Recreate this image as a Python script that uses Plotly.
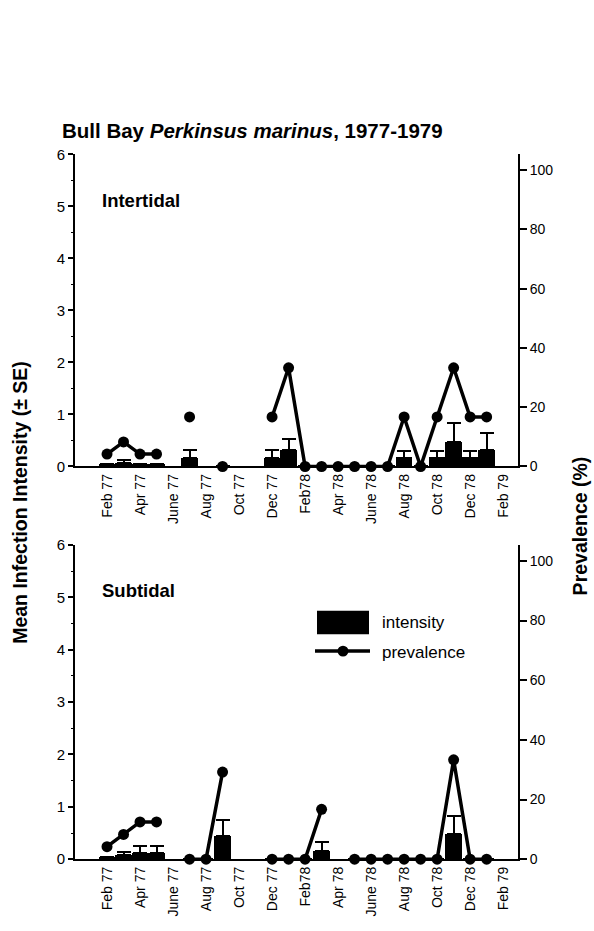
import plotly.graph_objects as go

# Sampling months, indexed from Feb 1977 (0) to Jan 1979 (23)
months = list(range(24))

tick_vals = [0, 2, 4, 6, 8, 10, 12, 14, 16, 18, 20, 22, 24]
tick_text = ["Feb 77", "Apr 77", "June 77", "Aug 77", "Oct 77", "Dec 77", "Feb78",
             "Apr 78", "June 78", "Aug 78", "Oct 78", "Dec 78", "Feb 79"]

# Intertidal station
inter_intensity = [0.04, 0.06, 0.04, 0.04, None, 0.16, None, 0.0, None, None, 0.16, 0.32,
                   0.0, 0.0, 0.0, 0.0, 0.0, 0.0, 0.17, 0.0, 0.17, 0.47, 0.17, 0.32]
inter_se = [None, 0.06, None, None, None, 0.16, None, None, None, None, 0.16, 0.21,
            None, None, None, None, None, None, 0.12, None, 0.12, 0.36, 0.12, 0.33]
inter_prev = [4.2, 8.3, 4.2, 4.2, None, 16.7, None, 0.0, None, None, 16.7, 33.3,
              0.0, 0.0, 0.0, 0.0, 0.0, 0.0, 16.7, 0.0, 16.7, 33.3, 16.7, 16.7]

# Subtidal station
sub_intensity = [0.05, 0.08, 0.12, 0.12, None, 0.0, 0.0, 0.44, None, None, 0.0, 0.0,
                 0.0, 0.16, None, 0.0, 0.0, 0.0, 0.0, 0.0, 0.0, 0.49, 0.0, 0.0]
sub_se = [None, 0.05, 0.13, 0.13, None, None, None, 0.30, None, None, None, None,
          None, 0.17, None, None, None, None, None, None, None, 0.34, None, None]
sub_prev = [4.2, 8.3, 12.5, 12.5, None, 0.0, 0.0, 29.2, None, None, 0.0, 0.0,
            0.0, 16.7, None, 0.0, 0.0, 0.0, 0.0, 0.0, 0.0, 33.3, 0.0, 0.0]

W, H = 594, 931
FONT = "Liberation Sans, Arial, Helvetica, sans-serif"


def px(x):
    return x / W


def py(y):
    return 1 - y / H


fig = go.Figure()

panels = [
    (inter_intensity, inter_se, inter_prev, "x", "y", "y2"),
    (sub_intensity, sub_se, sub_prev, "x2", "y3", "y4"),
]
for inten, se, prev, xa, ya, ya2 in panels:
    fig.add_trace(go.Bar(
        x=months, y=inten, xaxis=xa, yaxis=ya, width=1.0,
        marker=dict(color="black", line=dict(width=0)),
        error_y=dict(type="data", array=se, symmetric=False,
                     arrayminus=[0] * len(se), color="black",
                     thickness=2, width=7),
        showlegend=False,
    ))
    fig.add_trace(go.Scatter(
        x=months, y=prev, xaxis=xa, yaxis=ya2, mode="lines+markers",
        line=dict(color="black", width=3.5),
        marker=dict(color="black", size=11),
        connectgaps=False, cliponaxis=False, showlegend=False,
    ))

x_common = dict(
    range=[-1.94, 24.9], tickmode="array", tickvals=tick_vals, ticktext=tick_text,
    tickangle=-90, showline=True, linecolor="black", linewidth=2, ticks="",
    showgrid=False, zeroline=False, domain=[px(75), px(518)],
    tickfont=dict(family=FONT, size=14, color="black"),
)
yl_common = dict(
    range=[0, 6], tickvals=[0, 1, 2, 3, 4, 5, 6], showline=True, linecolor="black",
    linewidth=2, ticks="outside", ticklen=5, tickwidth=2, tickcolor="black",
    showgrid=False, zeroline=False,
    tickfont=dict(family=FONT, size=15, color="black"),
    minor=dict(ticks="outside", ticklen=2, tickwidth=1, dtick=0.5, tickcolor="black"),
)
yr_common = dict(
    range=[0, 105.3], tickvals=[0, 20, 40, 60, 80, 100], side="right",
    showline=True, linecolor="black", linewidth=2, ticks="outside", ticklen=7,
    tickwidth=2, tickcolor="black", showgrid=False, zeroline=False,
    tickfont=dict(family=FONT, size=14, color="black"),
)

fig.update_layout(
    width=W, height=H, margin=dict(l=0, r=0, t=0, b=0),
    plot_bgcolor="white", paper_bgcolor="white", bargap=0,
    xaxis=dict(**x_common, anchor="y"),
    yaxis=dict(**yl_common, domain=[py(466), py(148)], anchor="x"),
    yaxis2=dict(**yr_common, overlaying="y", anchor="x"),
    xaxis2=dict(**x_common, anchor="y3"),
    yaxis3=dict(**yl_common, domain=[py(866), py(546)], anchor="x2"),
    yaxis4=dict(**yr_common, overlaying="y3", anchor="x2"),
)

annotations = [
    dict(text="Bull Bay <i>Perkinsus marinus</i>, 1977-1979", x=px(252), y=py(124),
         font=dict(family=FONT, size=20.5, color="black"), xanchor="center", yanchor="middle"),
    dict(text="Intertidal", x=px(100), y=py(195), xanchor="left", yanchor="middle",
         font=dict(family=FONT, size=18.5, color="black")),
    dict(text="Subtidal", x=px(100), y=py(592), xanchor="left", yanchor="middle",
         font=dict(family=FONT, size=18.5, color="black")),
    dict(text="Mean Infection Intensity (\u00b1 SE)", x=px(20), y=py(503), textangle=-90,
         xanchor="center", yanchor="middle", font=dict(family=FONT, size=19.5, color="black")),
    dict(text="Prevalence (%)", x=px(580), y=py(527), textangle=-90,
         xanchor="center", yanchor="middle", font=dict(family=FONT, size=19.5, color="black")),
    dict(text="intensity", x=px(380), y=py(625), xanchor="left", yanchor="middle",
         font=dict(family=FONT, size=17, color="black")),
    dict(text="prevalence", x=px(380), y=py(655), xanchor="left", yanchor="middle",
         font=dict(family=FONT, size=17, color="black")),
]
for a in annotations:
    a.update(xref="paper", yref="paper", showarrow=False)
    if a["text"] not in ("intensity", "prevalence"):
        a["text"] = "<b>" + a["text"] + "</b>"
fig.update_layout(annotations=annotations)

# legend keys
fig.add_shape(type="rect", xref="paper", yref="paper", x0=px(317), x1=px(369),
              y0=py(637), y1=py(613), fillcolor="black", line=dict(width=0))
fig.add_shape(type="line", xref="paper", yref="paper", x0=px(315), x1=px(370),
              y0=py(654), y1=py(654), line=dict(color="black", width=3.5))
fig.add_shape(type="circle", xref="paper", yref="paper", x0=px(337.5), x1=px(348.5),
              y0=py(659.5), y1=py(648.5), fillcolor="black", line=dict(width=0))

fig.write_html("out.html")
